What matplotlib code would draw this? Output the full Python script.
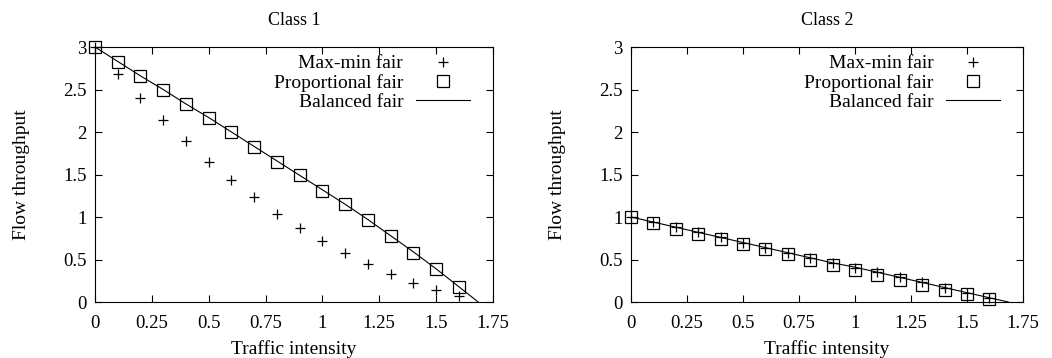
import matplotlib
matplotlib.use("Agg")
import matplotlib.pyplot as plt

plt.rcParams["font.family"] = ["Liberation Serif", "DejaVu Serif"]
plt.rcParams["font.size"] = 14

# traffic intensity
x = [0.0, 0.1, 0.2, 0.3, 0.4, 0.5, 0.6, 0.7, 0.8, 0.9, 1.0, 1.1, 1.2, 1.3, 1.4, 1.5, 1.6]
x_line = x + [1.685]

# class 1
maxmin_1 = [3.0, 2.68, 2.40, 2.14, 1.89, 1.65, 1.44, 1.24, 1.04, 0.87, 0.72, 0.58, 0.45, 0.33, 0.22, 0.14, 0.07]
prop_1 = [3.0, 2.82, 2.66, 2.50, 2.33, 2.17, 2.00, 1.82, 1.65, 1.49, 1.31, 1.15, 0.96, 0.78, 0.58, 0.39, 0.18]
balanced_1 = [3.0, 2.83, 2.66, 2.50, 2.33, 2.17, 2.00, 1.83, 1.66, 1.49, 1.32, 1.15, 0.97, 0.78, 0.59, 0.39, 0.18, 0.0]

# class 2
maxmin_2 = [1.0, 0.94, 0.88, 0.82, 0.76, 0.70, 0.64, 0.58, 0.52, 0.46, 0.40, 0.35, 0.29, 0.23, 0.17, 0.11, 0.05]
prop_2 = [1.0, 0.93, 0.86, 0.80, 0.74, 0.68, 0.62, 0.56, 0.50, 0.44, 0.38, 0.32, 0.26, 0.20, 0.145, 0.09, 0.04]
balanced_2 = [1.0, 0.94, 0.88, 0.82, 0.76, 0.70, 0.64, 0.58, 0.52, 0.46, 0.41, 0.35, 0.29, 0.23, 0.17, 0.11, 0.05, 0.0]

xticks = [0, 0.25, 0.5, 0.75, 1, 1.25, 1.5, 1.75]
xticklabels = ["0", "0.25", "0.5", "0.75", "1", "1.25", "1.5", "1.75"]
yticks = [0, 0.5, 1, 1.5, 2, 2.5, 3]
yticklabels = ["0", "0.5", "1", "1.5", "2", "2.5", "3"]

fig = plt.figure(figsize=(10.52, 3.58), dpi=100)
ax1 = fig.add_axes([0.0903, 0.1564, 0.3783, 0.7123])
ax2 = fig.add_axes([0.5998, 0.1564, 0.3726, 0.7123])

panels = [(ax1, "Class 1", maxmin_1, prop_1, balanced_1),
          (ax2, "Class 2", maxmin_2, prop_2, balanced_2)]

for ax, title, mm, pf, bf in panels:
    ax.plot(x, mm, linestyle="none", marker="+", markersize=7, markeredgewidth=0.9,
            color="black", label="Max-min fair", clip_on=False)
    ax.plot(x, pf, linestyle="none", marker="s", markersize=8.5, markeredgewidth=0.9,
            markerfacecolor="none", markeredgecolor="black", label="Proportional fair",
            clip_on=False)
    ax.plot(x_line, bf, color="black", linewidth=0.8, label="Balanced fair")

    ax.set_xlim(0, 1.75)
    ax.set_ylim(0, 3)
    ax.set_xticks(xticks)
    ax.set_xticklabels(xticklabels)
    ax.set_yticks(yticks)
    ax.set_yticklabels(yticklabels)
    ax.tick_params(direction="in", top=True, right=True, length=5, width=0.8,
                   labelsize=13.5)
    ax.tick_params(axis="x", pad=9)
    ax.tick_params(axis="y", pad=6)
    for s in ax.spines.values():
        s.set_linewidth(0.8)

    ax.set_title(title, fontsize=13, pad=16)
    ax.set_xlabel("Traffic intensity", fontsize=14, labelpad=6)
    ax.set_ylabel("Flow throughput", fontsize=14, labelpad=24)

    ax.legend(loc="upper right", frameon=False, markerfirst=False, fontsize=14,
              handlelength=2.8, handletextpad=0.65, labelspacing=0.08,
              borderaxespad=0.2, borderpad=0.2, bbox_to_anchor=(0.9625, 1.0))

fig.savefig("out.png", dpi=100)
